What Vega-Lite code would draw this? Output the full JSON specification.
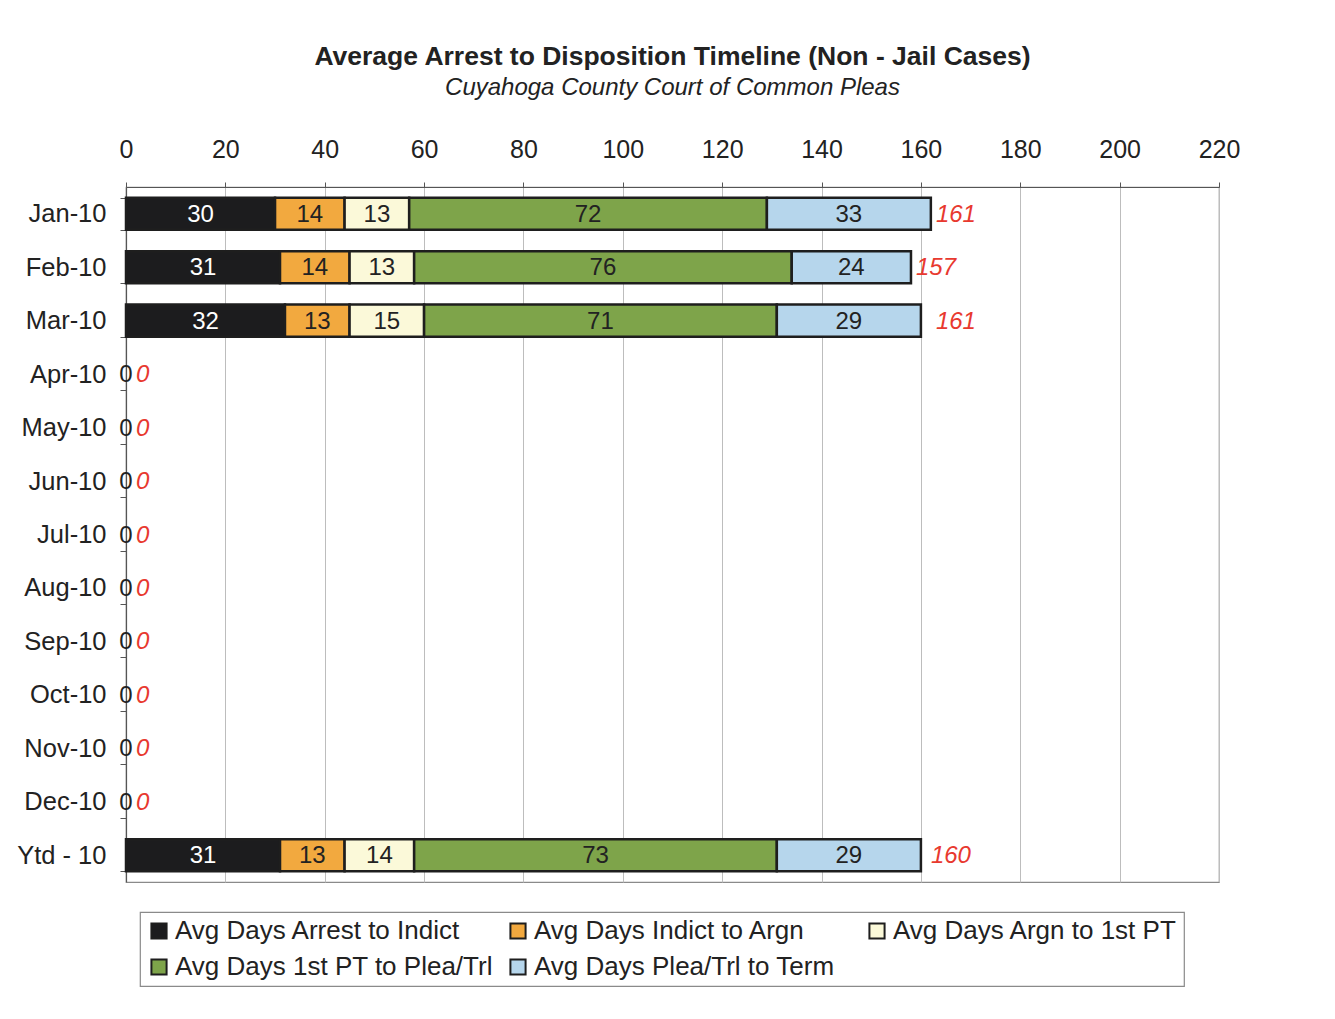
{
  "$schema": "https://vega.github.io/schema/vega-lite/v6.json",
  "autosize": {"type": "none"},
  "width": 1093,
  "height": 695,
  "padding": {"left": 126, "top": 187, "right": 116, "bottom": 137},
  "background": "white",
  "title": {
    "text": "Average Arrest to Disposition Timeline (Non - Jail Cases)",
    "subtitle": "Cuyahoga County Court of Common Pleas",
    "font": "Liberation Sans",
    "fontSize": 26.5,
    "fontWeight": "bold",
    "color": "#222222",
    "subtitleFont": "Liberation Sans",
    "subtitleFontSize": 24,
    "subtitleFontStyle": "italic",
    "subtitleColor": "#222222",
    "subtitlePadding": 6,
    "anchor": "middle",
    "offset": 37
  },
  "config": {
    "view": {"stroke": "#8a8a8a", "strokeWidth": 1.2},
    "font": "Liberation Sans",
    "legend": {"strokeWidth": 1.2}
  },
  "datasets": {
    "seg": [
      {"m": "Jan-10", "s": "Avg Days Arrest to Indict", "k": 1, "v": 30},
      {"m": "Jan-10", "s": "Avg Days Indict to Argn", "k": 2, "v": 14},
      {"m": "Jan-10", "s": "Avg Days Argn to 1st PT", "k": 3, "v": 13},
      {"m": "Jan-10", "s": "Avg Days 1st PT to Plea/Trl", "k": 4, "v": 72},
      {"m": "Jan-10", "s": "Avg Days Plea/Trl to Term", "k": 5, "v": 33},
      {"m": "Feb-10", "s": "Avg Days Arrest to Indict", "k": 1, "v": 31},
      {"m": "Feb-10", "s": "Avg Days Indict to Argn", "k": 2, "v": 14},
      {"m": "Feb-10", "s": "Avg Days Argn to 1st PT", "k": 3, "v": 13},
      {"m": "Feb-10", "s": "Avg Days 1st PT to Plea/Trl", "k": 4, "v": 76},
      {"m": "Feb-10", "s": "Avg Days Plea/Trl to Term", "k": 5, "v": 24},
      {"m": "Mar-10", "s": "Avg Days Arrest to Indict", "k": 1, "v": 32},
      {"m": "Mar-10", "s": "Avg Days Indict to Argn", "k": 2, "v": 13},
      {"m": "Mar-10", "s": "Avg Days Argn to 1st PT", "k": 3, "v": 15},
      {"m": "Mar-10", "s": "Avg Days 1st PT to Plea/Trl", "k": 4, "v": 71},
      {"m": "Mar-10", "s": "Avg Days Plea/Trl to Term", "k": 5, "v": 29},
      {"m": "Apr-10", "s": "Avg Days Arrest to Indict", "k": 1, "v": 0},
      {"m": "May-10", "s": "Avg Days Arrest to Indict", "k": 1, "v": 0},
      {"m": "Jun-10", "s": "Avg Days Arrest to Indict", "k": 1, "v": 0},
      {"m": "Jul-10", "s": "Avg Days Arrest to Indict", "k": 1, "v": 0},
      {"m": "Aug-10", "s": "Avg Days Arrest to Indict", "k": 1, "v": 0},
      {"m": "Sep-10", "s": "Avg Days Arrest to Indict", "k": 1, "v": 0},
      {"m": "Oct-10", "s": "Avg Days Arrest to Indict", "k": 1, "v": 0},
      {"m": "Nov-10", "s": "Avg Days Arrest to Indict", "k": 1, "v": 0},
      {"m": "Dec-10", "s": "Avg Days Arrest to Indict", "k": 1, "v": 0},
      {"m": "Ytd - 10", "s": "Avg Days Arrest to Indict", "k": 1, "v": 31},
      {"m": "Ytd - 10", "s": "Avg Days Indict to Argn", "k": 2, "v": 13},
      {"m": "Ytd - 10", "s": "Avg Days Argn to 1st PT", "k": 3, "v": 14},
      {"m": "Ytd - 10", "s": "Avg Days 1st PT to Plea/Trl", "k": 4, "v": 73},
      {"m": "Ytd - 10", "s": "Avg Days Plea/Trl to Term", "k": 5, "v": 29}
    ],
    "tot": [
      {"m": "Jan-10", "t": 161},
      {"m": "Feb-10", "t": 157},
      {"m": "Mar-10", "t": 161},
      {"m": "Apr-10", "t": 0},
      {"m": "May-10", "t": 0},
      {"m": "Jun-10", "t": 0},
      {"m": "Jul-10", "t": 0},
      {"m": "Aug-10", "t": 0},
      {"m": "Sep-10", "t": 0},
      {"m": "Oct-10", "t": 0},
      {"m": "Nov-10", "t": 0},
      {"m": "Dec-10", "t": 0},
      {"m": "Ytd - 10", "t": 160}
    ]
  },
  "encoding": {
    "y": {
      "field": "m",
      "type": "nominal",
      "sort": ["Jan-10","Feb-10","Mar-10","Apr-10","May-10","Jun-10","Jul-10","Aug-10","Sep-10","Oct-10","Nov-10","Dec-10","Ytd - 10"],
      "scale": {"paddingInner": 0.4, "paddingOuter": 0.2},
      "axis": {
        "title": null,
        "tickBand": "extent",
        "labelFontSize": 25.5,
        "labelColor": "#222222",
        "labelPadding": 14,
        "tickSize": 6,
        "tickColor": "#555555",
        "domainColor": "#555555",
        "domainWidth": 1.2,
        "grid": false
      }
    }
  },
  "layer": [
    {
      "data": {"name": "seg"},
      "mark": {"type": "bar", "stroke": "#1e1e1e"},
      "encoding": {
        "x": {
          "field": "v",
          "type": "quantitative",
          "stack": "zero",
          "scale": {"domain": [0, 220], "nice": false},
          "axis": {
            "orient": "top",
            "title": null,
            "values": [0,20,40,60,80,100,120,140,160,180,200,220],
            "labelFontSize": 25,
            "labelFlush": false,
            "labelColor": "#222222",
            "labelPadding": 20,
            "tickSize": 5,
            "tickColor": "#555555",
            "domainColor": "#555555",
            "grid": true,
            "gridColor": "#bdbdbd",
            "gridWidth": 1
          }
        },
        "strokeWidth": {
          "condition": {"test": "datum.v === 0", "value": 0},
          "value": 2.5
        },
        "color": {
          "field": "s",
          "type": "nominal",
          "scale": {
            "domain": ["Avg Days Arrest to Indict","Avg Days Indict to Argn","Avg Days Argn to 1st PT","Avg Days 1st PT to Plea/Trl","Avg Days Plea/Trl to Term"],
            "range": ["#1c1c1e","#f2a93f","#fbf9d9","#7ea44a","#b6d6ec"]
          },
          "legend": {
            "title": null,
            "orient": "none",
            "legendX": 14,
            "legendY": 725,
            "columns": 3,
            "gridAlign": "all",
            "direction": "horizontal",
            "symbolType": "square",
            "symbolSize": 230,
            "symbolStrokeColor": "#1e1e1e",
            "symbolStrokeWidth": 2,
            "symbolOpacity": 1,
            "labelFontSize": 26,
            "labelColor": "#222222",
            "labelOffset": 3,
            "labelLimit": 400,
            "columnPadding": 12,
            "rowPadding": 10,
            "padding": 6,
            "strokeColor": "#8a8a8a"
          }
        },
        "order": {"field": "k", "type": "quantitative"}
      }
    },
    {
      "data": {"name": "seg"},
      "transform": [
        {"stack": "v", "groupby": ["m"], "sort": [{"field": "k"}], "as": ["v0", "v1"]},
        {"calculate": "(datum.v0 + datum.v1) / 2", "as": "mid"}
      ],
      "mark": {"type": "text", "fontSize": 24, "align": "center", "baseline": "middle", "dy": 1},
      "encoding": {
        "x": {"field": "mid", "type": "quantitative"},
        "text": {"field": "v", "type": "quantitative"},
        "color": {
          "condition": {"test": "datum.k === 1 && datum.v > 0", "value": "#ffffff"},
          "value": "#222222"
        }
      }
    },
    {
      "data": {"name": "tot"},
      "mark": {"type": "text", "fontSize": 24, "fontStyle": "italic", "align": "left", "baseline": "middle", "dx": 10, "dy": 1, "color": "#e8392f"},
      "encoding": {
        "x": {"field": "t", "type": "quantitative"},
        "text": {"field": "t", "type": "quantitative"}
      }
    }
  ]
}
